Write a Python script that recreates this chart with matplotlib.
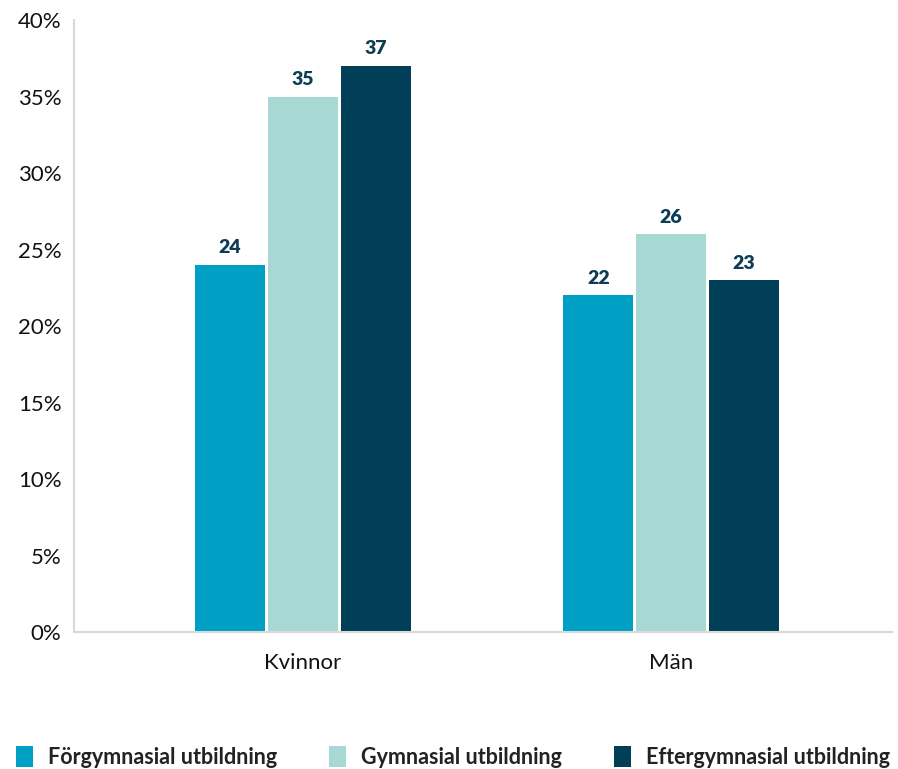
import matplotlib.pyplot as plt
import numpy as np

plt.rcParams['font.family'] = ['Lato', 'DejaVu Sans']

# data
categories = ['Kvinnor', 'Män']
series = ['Förgymnasial utbildning', 'Gymnasial utbildning', 'Eftergymnasial utbildning']
values = [
    [24, 22],
    [35, 26],
    [37, 23],
]
colors = ['#009fc4', '#a8d8d4', '#003f57']

fig = plt.figure(figsize=(8.98, 7.69), dpi=100)
ax = fig.add_axes([0.0824, 0.178, 0.911, 0.796])

x = np.arange(len(categories))
width = 0.19
step = 0.198
for i, (name, vals, c) in enumerate(zip(series, values, colors)):
    pos = x + (i - 1) * step
    ax.bar(pos, vals, width=width, color=c, label=name)
    for p, v in zip(pos, vals):
        ax.text(p, v + 0.55, str(v), ha='center', va='bottom', fontsize=14,
                fontweight='heavy', color='#0d3d55')

ax.set_xlim(-0.622, 1.6)
ax.set_ylim(0, 40)
ax.set_yticks(range(0, 41, 5))
ax.set_yticklabels([f'{t}%' for t in range(0, 41, 5)], fontsize=16, color='#111111')
ax.set_xticks(x)
ax.set_xticklabels(categories, fontsize=16, color='#111111')
ax.tick_params(axis='both', length=0)
ax.tick_params(axis='y', pad=9)
ax.tick_params(axis='x', pad=15)
for s in ['top', 'right']:
    ax.spines[s].set_visible(False)
for s in ['left', 'bottom']:
    ax.spines[s].set_color('#d9d9d9')
    ax.spines[s].set_linewidth(1.5)

leg = fig.legend(loc='lower left', bbox_to_anchor=(-0.004, -0.024), ncol=3, frameon=False,
                 fontsize=15.5, handlelength=0.8, handleheight=1.1, handletextpad=0.7,
                 columnspacing=2.4)
for t in leg.get_texts():
    t.set_fontweight('bold')
    t.set_color('#222222')

fig.savefig('out.png', dpi=100)
